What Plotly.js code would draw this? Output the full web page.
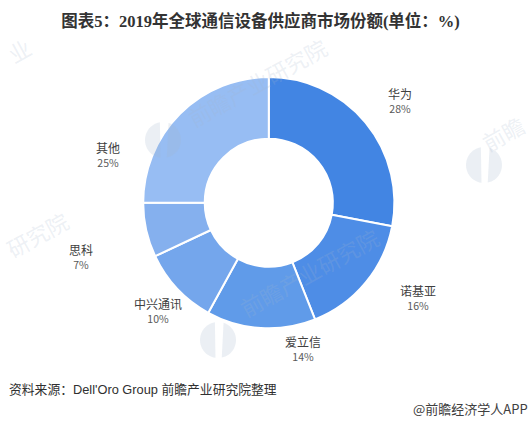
<!DOCTYPE html>
<html><head><meta charset="utf-8">
<script src="https://cdn.plot.ly/plotly-3.0.1.min.js"></script>
<style>html,body{margin:0;padding:0;background:#fff}#c{width:531px;height:422px}</style>
</head><body><div id="c"></div>
<script>
const categories = ['华为','诺基亚','爱立信','中兴通讯','思科','其他'];
const shares = [28,16,14,10,7,25];
const sliceColors = ['#4285E3','#4E8DE6','#609BE9','#74A6EC','#85B0EE','#97BDF3'];
const labelX = [400,417.5,302.5,158,80.5,107.5];
const labelY = [100,297,348,310,256,154];
const titleText = '图表5：2019年全球通信设备供应商市场份额(单位：%)';
const sourceText = "资料来源：Dell'Oro Group 前瞻产业研究院整理";
const creditText = '@前瞻经济学人APP';
const markTexts = ['前瞻产业研究院','前瞻产业研究院','研究院','业','前瞻'];
const markX = [257,309,37,19,503];
const markY = [82,272,234,50,133];
const W = 531, H = 422;
const CJK = '"Noto Sans CJK SC","Liberation Sans",sans-serif';
const LATIN = '"Liberation Sans","Noto Sans CJK SC",sans-serif';
const annotations = [];
function note(x,y,text,font,xanchor){
  annotations.push({x:x/W,y:1-y/H,xref:'paper',yref:'paper',xanchor:xanchor||'center',yanchor:'middle',align:'center',showarrow:false,text,font});
}
markTexts.forEach((t,i)=>{note(markX[i],markY[i],t,{family:CJK,size:22,color:'rgba(165,182,205,0.20)'});annotations[annotations.length-1].textangle=-29;});
categories.forEach((c,i)=>{
  note(labelX[i],labelY[i],'<span style="font-size:12px;color:#404040">'+c+'</span><br><span style="font-size:10.5px;color:#595959">'+shares[i]+'%</span>',{family:CJK,size:11,color:'#404040'});
});
note(7,389,sourceText,{family:LATIN,size:12.8,color:'#303030'},'left');
note(530,408,creditText,{family:CJK,size:13,color:'#404040'},'right');
const logoX = [163,218,484], logoY = [140,340,165], logoR = 18;
function lobe(x,y,a0,a1){
  const pts=[];
  for(let k=0;k<=24;k++){const a=(a0+(a1-a0)*k/24)*Math.PI/180;
    pts.push(((x+logoR*Math.cos(a))/W).toFixed(4)+','+(1-(y-logoR*Math.sin(a))/H).toFixed(4));}
  return 'M'+pts.join('L')+'Z';
}
const shapes=[];
logoX.forEach((x,i)=>{[[100,262],[-78,72]].forEach(([a0,a1])=>shapes.push({type:'path',xref:'paper',yref:'paper',path:lobe(x,logoY[i],a0,a1),
  fillcolor:'rgba(165,182,205,0.22)',line:{width:0},layer:'above'}));});
const cx=268.8, cy=202.7, r=125.6;
Plotly.newPlot('c',[{type:'pie',labels:categories,values:shares,hole:0.51,sort:false,direction:'clockwise',rotation:0,
  textinfo:'none',hoverinfo:'label+percent',
  marker:{colors:sliceColors,line:{color:'#fff',width:2}},
  domain:{x:[(cx-r)/W,(cx+r)/W],y:[1-(cy+r)/H,1-(cy-r)/H]}}],
  {width:W,height:H,margin:{l:0,r:0,t:0,b:0},showlegend:false,paper_bgcolor:'#fff',
   title:{text:'<b>'+titleText+'</b>',x:260.5/W,xanchor:'center',y:1-21/H,yanchor:'middle',font:{family:'"Liberation Serif","Noto Sans CJK SC",serif',size:16.5,color:'#333333'}},
   annotations,shapes},{displayModeBar:false});
</script></body></html>
